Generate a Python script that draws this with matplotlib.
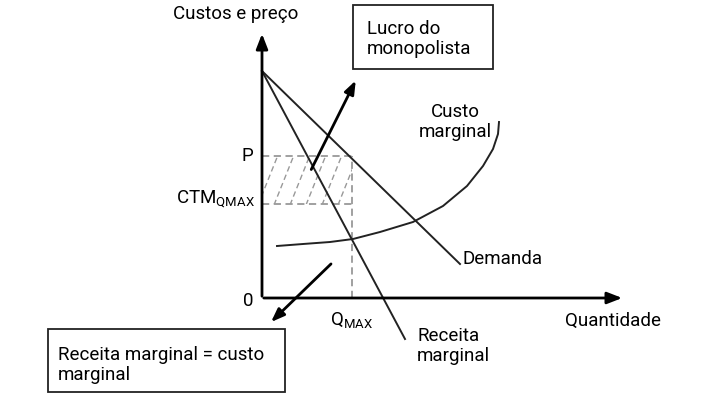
import matplotlib.pyplot as plt
import matplotlib.patches as mpatches
import numpy as np

plt.rcParams['font.family'] = ['Roboto', 'DejaVu Sans']
plt.rcParams['mathtext.fontset'] = 'custom'
plt.rcParams['mathtext.rm'] = 'Roboto'

# curves (quantity, price)
demand_q = [0, 198]
demand_p = [227, 34]
mr_q = [0, 143]
mr_p = [227, -41]
mc_q = [15, 41, 68, 91, 118, 151, 181, 205, 221, 231, 236, 237]
mc_p = [52, 54, 56, 59, 66, 76, 92, 112, 132, 149, 164, 176]

# equilibrium values
q_max = 90
p_price = 142
ctm = 94

# axis extent
x_end = 363
y_end = 267

fig = plt.figure(figsize=(7.23, 4.02), dpi=100)
ax = fig.add_axes([0, 0, 1, 1])
ax.set_xlim(-262, 461)
ax.set_ylim(-103, 299)
ax.axis('off')

# axes with arrows
ax.annotate('', xy=(0, y_end), xytext=(0, -1),
            arrowprops=dict(arrowstyle='-|>,head_length=0.9,head_width=0.35', color='black', lw=2))
ax.annotate('', xy=(x_end, 0), xytext=(-1, 0),
            arrowprops=dict(arrowstyle='-|>,head_length=0.9,head_width=0.35', color='black', lw=2))

# profit rectangle with dashed hatch lines
rect = mpatches.Rectangle((0, ctm), q_max, p_price - ctm, fill=False, lw=0)
ax.add_patch(rect)
for x0 in np.arange(-20, q_max + 10, 16):
    ln, = ax.plot([x0, x0 + 20], [ctm - 1, p_price + 1], color='#999999', lw=1, ls=(0, (4, 2.5)))
    ln.set_clip_path(rect)

# dashed guides
ax.plot([0, q_max], [p_price, p_price], color='#999999', lw=1.3, ls=(0, (4, 2.5)))
ax.plot([0, q_max], [ctm, ctm], color='#999999', lw=1.3, ls=(0, (4, 2.5)))
ax.plot([q_max, q_max], [0, p_price], color='#999999', lw=1.3, ls=(0, (4, 2.5)))

# curves
ax.plot(demand_q, demand_p, color='#222222', lw=1.4)
ax.plot(mr_q, mr_p, color='#222222', lw=1.4)
ax.plot(mc_q, mc_p, color='#222222', lw=1.4, solid_joinstyle='round')

fs = 13.5
ax.text(-26, 285, 'Custos e preço', fontsize=fs, ha='center', va='center')
ax.text(-9, 143, 'P', fontsize=fs, ha='right', va='center')
ax.text(-7, 100, r'$\mathrm{CTM}_{\mathrm{QMAX}}$', fontsize=fs, ha='right', va='center')
ax.text(-14, -2, '0', fontsize=fs, ha='center', va='center')
ax.text(90, -22, r'$\mathrm{Q}_{\mathrm{MAX}}$', fontsize=fs, ha='center', va='center')
ax.text(303, -22, 'Quantidade', fontsize=fs, ha='left', va='center')
ax.text(200, 40, 'Demanda', fontsize=fs, ha='left', va='center')
ax.text(155, -47, 'Receita\nmarginal', fontsize=fs, ha='left', va='center', linespacing=1.2)
ax.text(193, 177, 'Custo\nmarginal', fontsize=fs, ha='center', va='center', linespacing=1.2)

# boxes
ax.add_patch(mpatches.Rectangle((91, 229), 140, 64, fill=False, lw=1.3, ec='#222222'))
ax.text(105, 260, 'Lucro do\nmonopolista', fontsize=fs, ha='left', va='center', linespacing=1.2)
ax.add_patch(mpatches.Rectangle((-214, -94), 237, 63, fill=False, lw=1.3, ec='#222222'))
ax.text(-204, -66, 'Receita marginal = custo\nmarginal', fontsize=fs, ha='left', va='center',
        linespacing=1.2)

# pointer arrows
ax.annotate('', xy=(95, 220), xytext=(48, 126),
            arrowprops=dict(arrowstyle='-|>,head_length=0.8,head_width=0.3', color='black', lw=2))
ax.annotate('', xy=(7, -26), xytext=(71, 36),
            arrowprops=dict(arrowstyle='-|>,head_length=0.8,head_width=0.3', color='black', lw=2))

fig.savefig('out.png', dpi=100)
